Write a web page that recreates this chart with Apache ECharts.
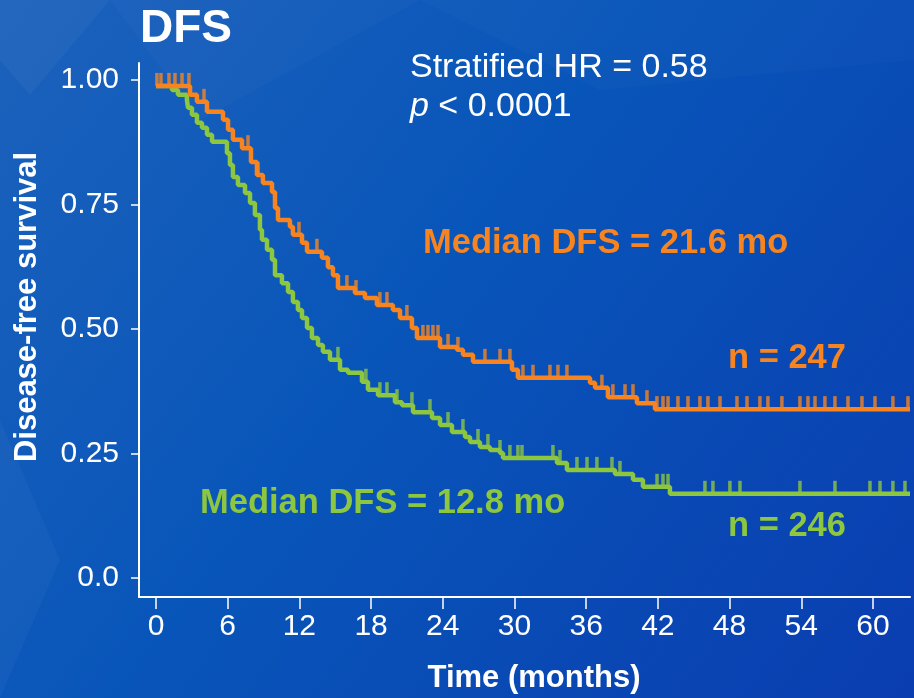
<!DOCTYPE html>
<html>
<head>
<meta charset="utf-8">
<script src="https://cdn.jsdelivr.net/npm/echarts@6/dist/echarts.min.js"></script>
<style>
html,body{margin:0;padding:0;width:914px;height:698px;overflow:hidden;}
#c{width:914px;height:698px;}
</style>
</head>
<body>
<div id="c"></div>
<script>
// ---- Data ----
const xTicks = [0, 6, 12, 18, 24, 30, 36, 42, 48, 54, 60];
const yTicks = [0, 0.25, 0.5, 0.75, 1.0];

// Orange arm (n = 247): step times (months) and survival after each step
const orangeTimes = [0, 2.85, 3.43, 4.27, 5.61, 6.03, 6.44, 7.20, 7.95, 8.45, 8.95, 9.71, 9.96, 10.21, 11.21, 11.46, 12.22, 12.64, 13.89, 14.39, 14.81, 15.23, 16.65, 17.49, 18.49, 19.83, 20.42, 21.42, 21.84, 23.77, 25.19, 25.69, 26.53, 29.79, 30.29, 36.32, 36.74, 37.82, 40.25, 41.76];
const orangeSurv  = [0.988, 0.970, 0.956, 0.936, 0.920, 0.900, 0.880, 0.863, 0.835, 0.809, 0.793, 0.775, 0.743, 0.719, 0.705, 0.689, 0.673, 0.655, 0.643, 0.624, 0.608, 0.582, 0.572, 0.562, 0.548, 0.538, 0.522, 0.502, 0.482, 0.464, 0.458, 0.448, 0.434, 0.418, 0.402, 0.392, 0.382, 0.363, 0.351, 0.339];
const orangeCensor = [0.08, 0.42, 1.09, 1.59, 2.18, 2.76, 4.02, 7.70, 8.54, 11.97, 13.47, 15.98, 16.74, 18.74, 19.33, 21.00, 22.34, 22.76, 23.18, 23.60, 24.44, 25.27, 27.53, 28.79, 29.62, 30.71, 31.55, 32.97, 33.64, 34.39, 37.32, 38.24, 39.25, 39.92, 41.09, 41.92, 42.43, 42.85, 43.68, 44.52, 45.52, 46.19, 47.20, 48.62, 49.46, 50.54, 51.21, 52.38, 53.89, 54.56, 55.15, 55.98, 56.82, 57.91, 59.08, 60.17, 61.67, 62.93];

// Green arm (n = 246)
const greenTimes = [0, 1.34, 1.84, 2.59, 2.68, 3.01, 3.43, 3.85, 4.27, 4.69, 5.94, 6.19, 6.44, 6.86, 7.45, 7.87, 8.28, 8.70, 8.87, 9.29, 9.71, 9.96, 10.54, 11.05, 11.46, 11.88, 12.22, 12.64, 13.05, 13.56, 13.97, 14.56, 15.40, 16.07, 17.24, 17.74, 18.58, 20.00, 20.59, 21.51, 23.10, 23.77, 24.77, 25.86, 26.28, 27.11, 27.95, 28.79, 29.04, 33.56, 34.39, 38.41, 39.92, 40.75, 43.01];
const greenSurv  = [0.988, 0.980, 0.970, 0.960, 0.944, 0.930, 0.914, 0.904, 0.890, 0.876, 0.853, 0.829, 0.805, 0.789, 0.773, 0.753, 0.729, 0.699, 0.679, 0.659, 0.639, 0.608, 0.592, 0.574, 0.554, 0.538, 0.522, 0.502, 0.482, 0.468, 0.454, 0.438, 0.418, 0.412, 0.394, 0.378, 0.367, 0.353, 0.347, 0.333, 0.321, 0.307, 0.293, 0.283, 0.273, 0.263, 0.257, 0.251, 0.241, 0.231, 0.217, 0.209, 0.197, 0.183, 0.169];
const greenCensor = [15.23, 17.57, 18.74, 19.33, 20.17, 21.42, 22.93, 24.44, 25.69, 26.95, 27.78, 28.79, 29.62, 30.29, 30.63, 33.22, 33.81, 35.23, 36.07, 36.90, 38.16, 38.83, 41.93, 42.43, 42.85, 45.94, 46.61, 48.03, 48.87, 53.89, 56.82, 59.75, 60.59, 61.67, 62.68];

const xEnd = 63.1;
const ORANGE = '#F7841F';
const GREEN = '#8DC63F';
const FONT = '"Liberation Sans", Arial, sans-serif';

function stepData(times, surv) {
  const d = times.map((t, i) => [t, surv[i]]);
  d.push([xEnd, surv[surv.length - 1]]);
  return d;
}
function survAt(times, surv, t) {
  let s = surv[0];
  for (let i = 0; i < times.length; i++) { if (times[i] <= t) s = surv[i]; }
  return s;
}
function censorData(times, surv, cens) {
  return cens.map(t => [t, survAt(times, surv, t)]);
}

const chart = echarts.init(document.getElementById('c'), null, {renderer: 'canvas'});

const option = {
  backgroundColor: {
    type: 'linear', x: 0, y: 0, x2: 1, y2: 1,
    colorStops: [
      {offset: 0, color: '#1C62BC'},
      {offset: 0.45, color: '#0855B9'},
      {offset: 1, color: '#0A3DB0'}
    ]
  },
  animation: false,
  grid: {left: 139, right: 4, top: 63, bottom: 101, containLabel: false},
  xAxis: {
    type: 'value', min: -1.42, max: xEnd,
    axisLine: {show: true, onZero: false, lineStyle: {color: '#ffffff', width: 2}},
    axisTick: {show: true, customValues: xTicks, length: 12, lineStyle: {color: '#ffffff', width: 1.5}},
    axisLabel: {show: true, customValues: xTicks, color: '#ffffff', fontSize: 30, fontFamily: FONT, margin: 15},
    splitLine: {show: false}
  },
  yAxis: {
    type: 'value', min: -0.0382, max: 1.034,
    axisLine: {show: true, onZero: false, lineStyle: {color: '#ffffff', width: 2}},
    axisTick: {show: true, customValues: yTicks, length: 8, lineStyle: {color: '#ffffff', width: 1.5}},
    axisLabel: {show: true, customValues: yTicks, color: '#ffffff', fontSize: 30, fontFamily: FONT, margin: 20,
      formatter: v => (v === 0 ? '0.0' : v.toFixed(2))},
    splitLine: {show: false}
  },
  series: [
    {type: 'line', step: 'end', data: stepData(greenTimes, greenSurv), showSymbol: false,
     lineStyle: {color: GREEN, width: 4.5}, itemStyle: {color: GREEN}, z: 2},
    {type: 'scatter', data: censorData(greenTimes, greenSurv, greenCensor), symbol: 'rect',
     symbolSize: [3.5, 13], symbolOffset: [0, -6.5], itemStyle: {color: GREEN}, z: 2},
    {type: 'line', step: 'end', data: stepData(orangeTimes, orangeSurv), showSymbol: false,
     lineStyle: {color: ORANGE, width: 4.5}, itemStyle: {color: ORANGE}, z: 3},
    {type: 'scatter', data: censorData(orangeTimes, orangeSurv, orangeCensor), symbol: 'rect',
     symbolSize: [3.5, 13], symbolOffset: [0, -6.5], itemStyle: {color: ORANGE}, z: 3}
  ],
  graphic: [
    {type: 'polygon', silent: true, z: -10, shape: {points: [[0,0],[110,0],[30,95],[0,60]]}, style: {fill: 'rgba(255,255,255,0.035)'}},
    {type: 'polygon', silent: true, z: -10, shape: {points: [[110,0],[420,0],[200,120]]}, style: {fill: 'rgba(255,255,255,0.025)'}},
    {type: 'polygon', silent: true, z: -10, shape: {points: [[420,0],[914,0],[914,60],[600,90]]}, style: {fill: 'rgba(255,255,255,0.02)'}},
    {type: 'polygon', silent: true, z: -10, shape: {points: [[0,420],[60,560],[0,698]]}, style: {fill: 'rgba(255,255,255,0.03)'}},
    {type: 'text', x: 140, y: 29, style: {text: 'DFS', fill: '#ffffff', font: 'bold 46px ' + FONT, textVerticalAlign: 'middle'}},
    {type: 'text', x: 410, y: 68, style: {text: 'Stratified HR = 0.58', fill: '#ffffff', font: '34px ' + FONT, textVerticalAlign: 'middle'}},
    {type: 'text', x: 410, y: 107, style: {text: '{i|p} < 0.0001', fill: '#ffffff', font: '34px ' + FONT, textVerticalAlign: 'middle',
      rich: {i: {fontStyle: 'italic', fontSize: 34, fontFamily: FONT, fill: '#ffffff'}}}},
    {type: 'text', x: 423, y: 243, style: {text: 'Median DFS = 21.6 mo', fill: ORANGE, font: 'bold 34.5px ' + FONT, textVerticalAlign: 'middle'}},
    {type: 'text', x: 728, y: 358, style: {text: 'n = 247', fill: ORANGE, font: 'bold 34.5px ' + FONT, textVerticalAlign: 'middle'}},
    {type: 'text', x: 200, y: 503, style: {text: 'Median DFS = 12.8 mo', fill: GREEN, font: 'bold 34.5px ' + FONT, textVerticalAlign: 'middle'}},
    {type: 'text', x: 728, y: 526, style: {text: 'n = 246', fill: GREEN, font: 'bold 34.5px ' + FONT, textVerticalAlign: 'middle'}},
    {type: 'text', x: 534, y: 678, style: {text: 'Time (months)', fill: '#ffffff', font: 'bold 31px ' + FONT, textAlign: 'center', textVerticalAlign: 'middle'}},
    {type: 'text', x: 27, y: 307, rotation: Math.PI / 2, style: {text: 'Disease-free survival', fill: '#ffffff', font: 'bold 31px ' + FONT, textAlign: 'center', textVerticalAlign: 'middle'}}
  ]
};
chart.setOption(option);
</script>
</body>
</html>
